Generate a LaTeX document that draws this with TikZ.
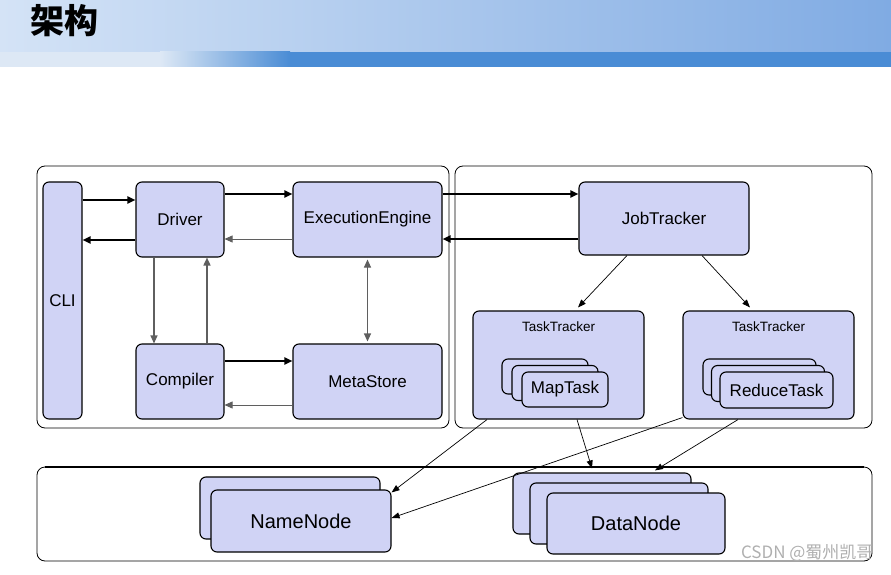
\documentclass[tikz,border=0pt]{standalone}
\usepackage{fontspec}
\setmainfont{Liberation Sans}
\newfontfamily\cjk{Noto Sans CJK SC}
\usetikzlibrary{positioning,arrows.meta,calc}
\definecolor{HiveLav}{RGB}{208,211,245}
\definecolor{BandLeft}{RGB}{212,227,246}
\definecolor{BandRight}{RGB}{128,171,227}
\definecolor{StripLight}{RGB}{221,232,245}
\definecolor{StripBlue}{RGB}{74,140,213}
\definecolor{FlowGrey}{RGB}{95,95,95}
\definecolor{MarkGrey}{RGB}{175,175,175}
\tikzset{
  box/.style={draw=black,line width=1.1pt,fill=HiveLav,rounded corners=6pt,
    inner sep=0pt,align=center,font=\fontsize{17}{20}\selectfont},
  bigbox/.style={box,font=\fontsize{20}{24}\selectfont},
  panel/.style={draw=black,line width=0.8pt,rounded corners=8pt},
  bflow/.style={-{Triangle[length=8pt,width=7pt]},line width=1.8pt,draw=black},
  gflow/.style={-{Triangle[length=8pt,width=7pt]},line width=1.1pt,draw=FlowGrey},
  tflow/.style={-{Triangle[length=8pt,width=6pt]},line width=0.7pt,draw=black}
}

\begin{document}
\begin{tikzpicture}[x=1pt,y=-1pt]
  \useasboundingbox (0,0) rectangle (891,575);
  % header band
  \shade[left color=BandLeft,right color=BandRight] (0,0) rectangle (891,52);
  \fill[StripLight] (0,52) rectangle (160,67);
  \shade[left color=StripLight,right color=StripBlue] (160,52) rectangle (290,67);
  \fill[StripBlue] (290,52) rectangle (891,67);
  \node[anchor=west,font=\cjk\bfseries\fontsize{34}{38}\selectfont] (title) at (27,21) {架构};

  % panels
  \draw[panel] (37,166) rectangle (449,428);
  \draw[panel] (455,166) rectangle (872,428);
  \draw[panel] (37,467) rectangle (872,561);
  \draw[line width=2pt] (45,467) -- (864,467);

  % hive side
  \node[box,minimum width=39pt,minimum height=237pt] (cli) at (62.5,300.5) {CLI};
  \node[box,minimum width=88pt,minimum height=75pt] (driver) at (180,219.5) {Driver};
  \node[box,minimum width=149pt,minimum height=75pt] (engine) at (367.5,219.5) {ExecutionEngine};
  \node[box,minimum width=88pt,minimum height=75pt] (compiler) at (180,381.5) {Compiler};
  \node[box,minimum width=149pt,minimum height=75pt] (metastore) at (367.5,381.5) {MetaStore};

  % mapreduce side
  \node[box,minimum width=170pt,minimum height=73pt] (jobtracker) at (664,218.5) {JobTracker};
  \node[box,minimum width=171pt,minimum height=108pt,
    label={[anchor=north,yshift=-8pt,font=\fontsize{13.5}{16}\selectfont]north:TaskTracker}] (tt1) at (558.5,365) {};
  \node[box,minimum width=171pt,minimum height=108pt,
    label={[anchor=north,yshift=-8pt,font=\fontsize{13.5}{16}\selectfont]north:TaskTracker}] (tt2) at (768.5,365) {};
  \node[box,minimum width=86pt,minimum height=35pt] (mapback) at (545,376.5) {};
  \node[box,minimum width=86pt,minimum height=35pt] (mapmid) at (555,383) {};
  \node[box,minimum width=86pt,minimum height=35pt] (maptask) at (565,389.5) {MapTask};
  \node[box,minimum width=113pt,minimum height=36pt] (redback) at (759.5,377) {};
  \node[box,minimum width=113pt,minimum height=36pt] (redmid) at (768,383.5) {};
  \node[box,minimum width=113pt,minimum height=36pt] (reducetask) at (776.5,390) {ReduceTask};

  % hdfs
  \node[bigbox,minimum width=180pt,minimum height=62pt] (nnback) at (290,508) {};
  \node[bigbox,minimum width=180pt,minimum height=62pt] (namenode) at (301,521) {NameNode};
  \node[bigbox,minimum width=178pt,minimum height=61pt] (dnback) at (602,503.5) {};
  \node[bigbox,minimum width=178pt,minimum height=61pt] (dnmid) at (619,513.5) {};
  \node[bigbox,minimum width=178pt,minimum height=61pt] (datanode) at (636,523.5) {DataNode};

  % hive arrows
  \draw[bflow] ([yshift=19.5pt]driver.west -| cli.east) -- ([yshift=19.5pt]driver.west);
  \draw[bflow] ([yshift=-20.5pt]driver.west) -- ([yshift=-20.5pt]driver.west -| cli.east);
  \draw[bflow] ([yshift=25.5pt]driver.east) -- ([yshift=25.5pt]engine.west);
  \draw[gflow,line width=0.8pt] ([yshift=-19.5pt]engine.west) -- ([yshift=-19.5pt]driver.east);
  \draw[gflow] ([xshift=-26pt]driver.south) -- ([xshift=-26pt]compiler.north);
  \draw[gflow,line width=1.6pt] ([xshift=27pt]compiler.north) -- ([xshift=27pt]driver.south);
  \draw[gflow,{Triangle[length=8pt,width=7pt]}-{Triangle[length=8pt,width=7pt]},shorten <=2pt,shorten >=2pt]
    (engine.south) -- (metastore.north);
  \draw[bflow] ([yshift=20.5pt]compiler.east) -- ([yshift=20.5pt]metastore.west);
  \draw[gflow,line width=0.8pt] ([yshift=-23.5pt]metastore.west) -- ([yshift=-23.5pt]compiler.east);

  % engine <-> jobtracker
  \draw[bflow] ([yshift=25.5pt]engine.east) -- ([yshift=25.5pt]engine.east -| jobtracker.west);
  \draw[bflow] ([yshift=-19.5pt]engine.east -| jobtracker.west) -- ([yshift=-19.5pt]engine.east);

  % jobtracker -> tasktrackers
  \draw[tflow] ([xshift=-37pt]jobtracker.south) -- ([xshift=19.5pt,yshift=3pt]tt1.north);
  \draw[tflow] ([xshift=38pt]jobtracker.south) -- ([xshift=-18.5pt,yshift=3pt]tt2.north);

  % tasktrackers -> hdfs
  \draw[tflow] ([xshift=-71.5pt]tt1.south) -- ([yshift=-3pt]namenode.north east);
  \draw[tflow] ([yshift=2pt]tt2.south west) -- ([yshift=3pt]namenode.east);
  \draw[tflow] ([xshift=18.5pt]tt1.south) -- ([xshift=-10pt,yshift=4pt]dnback.north);
  \draw[tflow] ([xshift=-30.5pt]tt2.south) -- ([xshift=53pt,yshift=2pt]dnback.north);

  \node[anchor=east,text=MarkGrey,font=\cjk\fontsize{17}{20}\selectfont] (mark) at (877,553) {CSDN @蜀州凯哥};
\end{tikzpicture}
\end{document}
